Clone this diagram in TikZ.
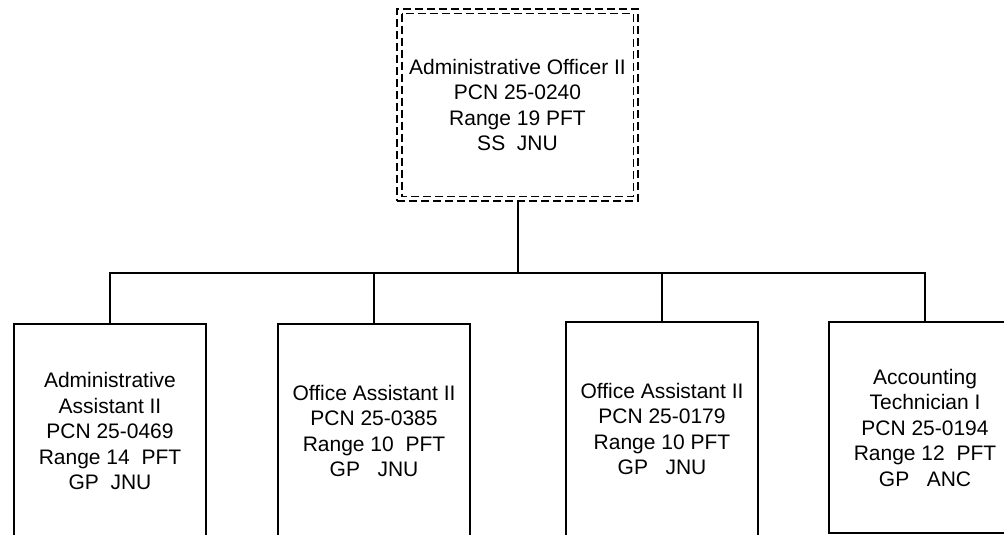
\documentclass[tikz,border=0pt]{standalone}
\usepackage{fontspec}
\setmainfont{Liberation Sans}
\begin{document}
\begin{tikzpicture}[x=1pt,y=-1pt,
  txt/.style={align=center, font=\fontsize{21}{25.5}\selectfont, inner sep=0pt},
  box/.style={txt, draw, line width=2pt, minimum width=192pt},
  dbox/.style={txt, draw, line width=1.6pt, dash pattern=on 8pt off 4pt, minimum width=241pt, minimum height=192pt},
  dinner/.style={draw, line width=1.6pt, dash pattern=on 8pt off 4pt},
  link/.style={draw, line width=2pt}]
\useasboundingbox (0,0) rectangle (1004,535);
\clip (0,0) rectangle (1004,535);
\node[dbox] (top) at (517.5,105) {Administrative Officer II\\PCN 25-0240\\Range 19 PFT\\SS\ \ JNU};
\draw[dinner] ([xshift=5.5pt,yshift=-5.5pt]top.north west) rectangle ([xshift=-5.5pt,yshift=5.5pt]top.south east);
\node[box, minimum height=214pt] (c1) at (110,431) {Administrative\\Assistant II\\PCN 25-0469\\Range 14\ \ PFT\\GP\ \ JNU};
\node[box, minimum height=214pt] (c2) at (374,431) {Office Assistant II\\PCN 25-0385\\Range 10\ \ PFT\\GP\ \ \ JNU};
\node[box, minimum height=214pt] (c3) at (662,429) {Office Assistant II\\PCN 25-0179\\Range 10 PFT\\GP\ \ \ JNU};
\node[box, minimum height=211pt] (c4) at (925,427.5) {Accounting\\Technician I\\PCN 25-0194\\Range 12\ \ PFT\\GP\ \ \ ANC};
\coordinate (bar) at (517.5,273);
\draw[link] (top.south) -- (bar);
\draw[link] (c1.north) |- (bar);
\draw[link] (c2.north) |- (bar);
\draw[link] (c3.north) |- (bar);
\draw[link] (c4.north) |- (bar);
\end{tikzpicture}
\end{document}
